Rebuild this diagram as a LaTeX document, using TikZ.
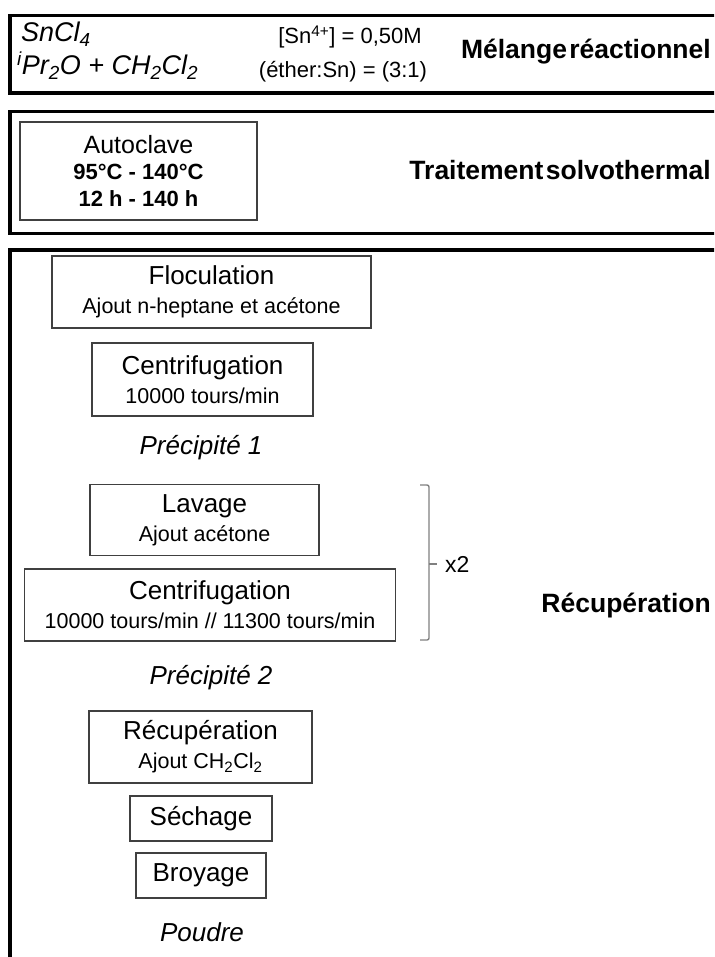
\documentclass[tikz,border=0pt]{standalone}
\usepackage{fontspec}
\setmainfont{Liberation Sans}
\newcommand\mainsz{\fontsize{26}{29}\selectfont}
\newcommand\subsz{\fontsize{21.5}{29}\selectfont}
\newcommand\condsz{\fontsize{22}{26.5}\selectfont}
\newcommand\titlesz{\fontsize{26.5}{30}\selectfont}
\definecolor{boxgray}{HTML}{404040}
\definecolor{bracegray}{HTML}{808080}
\begin{document}
\begin{tikzpicture}[x=1pt,y=-1pt,
  outerbox/.style={draw=black, line width=3.5pt},
  procbox/.style={draw=boxgray, line width=1.2pt, inner sep=0pt, align=center, font=\mainsz},
  titletext/.style={font=\titlesz\bfseries, anchor=east, inner sep=0pt},
  plaintext/.style={inner sep=0pt, font=\mainsz},
  condtext/.style={inner sep=0pt, font=\condsz},
  chemtext/.style={inner sep=0pt, anchor=base west, font=\fontsize{27}{30}\selectfont\itshape},
  bracestyle/.style={draw=bracegray, line width=1.4pt, rounded corners=2pt}]
\useasboundingbox (0,0) rectangle (714,957);
\clip (0,0) rectangle (714,957);
% outer frames
\draw[outerbox] (10,15.5) rectangle (760,93);
\draw[outerbox] (10,111.5) rectangle (760,233.5);
\draw[outerbox] (10,250) rectangle (760,1000);
% frame 1
\node[chemtext] (sncl) at (21,42) {SnCl\textsubscript{4}};
\node[chemtext] (ipr) at (17,75) {\textsuperscript{i}Pr\textsubscript{2}O + CH\textsubscript{2}Cl\textsubscript{2}};
\node[condtext] (conc) at (350,37) {[Sn\textsuperscript{4+}] = 0,50M};
\node[condtext] (ratio) at (343,72) {(éther:Sn) = (3:1)};
\node[titletext] (t1) at (711,52) {Mélange\hspace{0.09em}réactionnel};
% frame 2
\node[procbox, minimum width=237pt, minimum height=98pt, font=\fontsize{25}{26.5}\selectfont] (auto) at (138.5,171)
  {Autoclave\\\condsz\bfseries 95°C - 140°C\\\condsz\bfseries 12 h - 140 h};
\node[titletext] (t2) at (711,170) {Traitement\hspace{0.09em}solvothermal};
% frame 3
\node[procbox, minimum width=319pt, minimum height=72pt] (floc) at (211.5,292)
  {Floculation\\\subsz Ajout n-heptane et acétone};
\node[procbox, minimum width=221pt, minimum height=73pt] (cent1) at (202.5,379.5)
  {Centrifugation\\\subsz 10000 tours/min};
\node[plaintext, font=\mainsz\itshape] (prec1) at (201,448) {Précipité 1};
\node[procbox, minimum width=229pt, minimum height=71pt] (lav) at (204.5,520)
  {Lavage\\\subsz Ajout acétone};
\node[procbox, minimum width=371pt, minimum height=72pt] (cent2) at (210,605)
  {Centrifugation\\\subsz 10000 tours/min // 11300 tours/min};
\node[plaintext, font=\mainsz\itshape] (prec2) at (211,678) {Précipité 2};
\node[procbox, minimum width=223pt, minimum height=72pt] (recup) at (200.5,747)
  {Récupération\\\subsz Ajout CH\textsubscript{2}Cl\textsubscript{2}};
\node[procbox, minimum width=142pt, minimum height=45pt] (sech) at (201,818.5) {Séchage};
\node[procbox, minimum width=130pt, minimum height=45pt] (broy) at (201,875.5) {Broyage};
\node[plaintext, font=\mainsz\itshape] (poudre) at (202,932) {Poudre};
% brace
\coordinate (btop) at (420,485);
\coordinate (bbot) at (420,640);
\coordinate (btip) at (437,564);
\draw[bracestyle] (btop) -- (429,485) -- (429,640) -- (bbot);
\draw[draw=bracegray, line width=1.4pt] (429,564) -- (btip);
\node[condtext, anchor=west, font=\fontsize{23}{26}\selectfont] (x2) at (445,564) {x2};
\node[titletext] (t3) at (711,606) {Récupération};
\end{tikzpicture}
\end{document}
